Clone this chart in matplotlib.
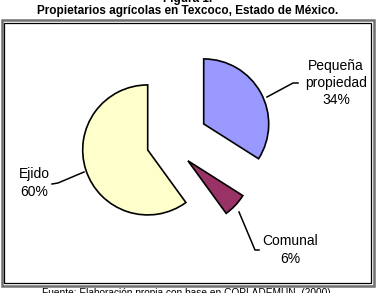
import matplotlib.pyplot as plt
from matplotlib.patches import Rectangle

# data
labels = ["Pequeña\npropiedad", "Comunal", "Ejido"]
values = [34, 6, 60]
colors = ["#9999FF", "#993366", "#FFFFCC"]
explode = [39.6, 26, 22.4]   # pixel offsets (pie explode is in data units)

plt.rcParams['font.family'] = ['Liberation Sans', 'DejaVu Sans']

fig = plt.figure(figsize=(3.76, 2.93), dpi=100)
ax = fig.add_axes([0, 0, 1, 1])

H = 293
# pie in pixel-like coords (y flipped)
ax.pie(values, colors=colors, explode=explode, startangle=90, counterclock=False,
       center=(169, H - 143), radius=65, frame=True,
       wedgeprops=dict(edgecolor='black', linewidth=1.2))
ax.set_xlim(0, 376)
ax.set_ylim(0, 293)
ax.set_aspect('equal')
ax.axis('off')

# frame
ax.add_patch(Rectangle((1.5, H - 286), 372, 266.5, fill=False, edgecolor='#707070', lw=1.8))
ax.add_patch(Rectangle((4, H - 283), 367, 260.5, fill=False, edgecolor='black', lw=0.9))

# labels with leader lines
txt = [f"{l}\n{v}%" for l, v in zip(labels, values)]
lab_pos = [(336, 83), (290, 250), (34, 183)]
leaders = [[(267, 97), (293, 83), (298, 83)],
           [(239, 212), (255, 250), (259, 250)],
           [(84, 172), (58, 183), (52, 184)]]
for t, (x, y), pts in zip(txt, lab_pos, leaders):
    ax.text(x, H - y, t, ha='center', va='center', fontsize=10, linespacing=1.3)
    ax.plot([p[0] for p in pts], [H - p[1] for p in pts], color='black', lw=1.1)

ax.text(188, H + 1, "Figura 1.", ha='center', va='center', fontsize=8.5, fontweight='bold')
ax.text(188, H - 11, "Propietarios agrícolas en Texcoco, Estado de México.",
        ha='center', va='center', fontsize=8.5, fontweight='bold')
ax.text(188, H - 293, "Fuente: Elaboración propia con base en COPLADEMUN, (2000).",
        ha='center', va='center', fontsize=7.3)

fig.savefig('out.png', dpi=100)
